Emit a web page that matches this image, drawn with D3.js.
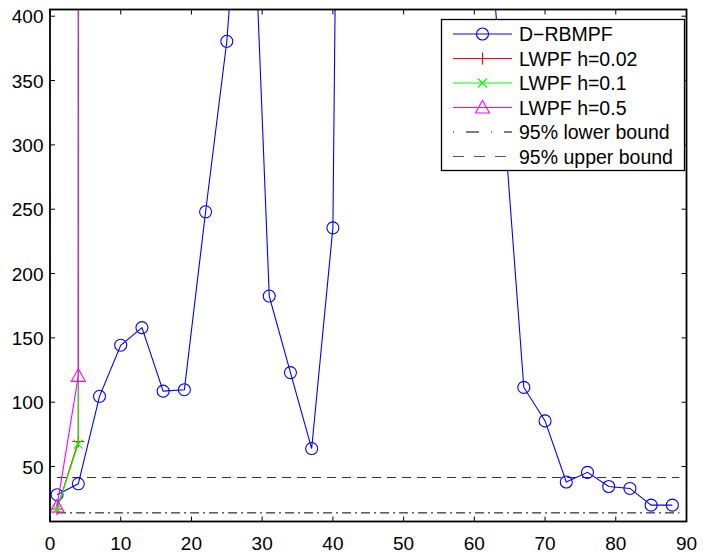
<!DOCTYPE html>
<html><head><meta charset="utf-8">
<script src="https://cdn.jsdelivr.net/npm/d3@7"></script>
<style>body{margin:0;background:#fff}svg{display:block}text{font-family:"Liberation Sans",Arial,sans-serif;fill:#000}</style>
</head><body><svg id="c" width="702" height="553"></svg>
<script>
// data
const xD = [1,4,7,10,13,16,19,22,25,28,31,34,37,40,43,67,70,73,76,79,82,85,88];
const yD = [28.1,36.6,104.6,144.3,158,108.6,109.7,248,380.5,600,182.5,123,64,235.5,1880,111.5,85.5,38,45.5,34.5,33,20,20];
const xL = [1,4,7];
const yL002 = [17,69.5,100000];
const yL01 = [17,67.5,100000];
const yL05 = [19,120.5,100000];
const boundX = [1,89];
const lowerBound = 14;
const upperBound = 41.5;
const xTicks = [0,10,20,30,40,50,60,70,80,90];
const yTicks = [50,100,150,200,250,300,350,400];
const legendLabels = ["D\u2212RBMPF","LWPF h=0.02","LWPF h=0.1","LWPF h=0.5","95% lower bound","95% upper bound"];

const L=50,R=686.5,T=9.5,B=521.5;
const x=d3.scaleLinear().domain([0,90]).range([L,R]);
const y=d3.scaleLinear().domain([7.3,405.2]).range([B,T]);
const svg=d3.select("#c");
svg.append("defs").append("clipPath").attr("id","clip").append("rect").attr("x",L).attr("y",T).attr("width",R-L).attr("height",B-T);
const g=svg.append("g").attr("clip-path","url(#clip)");

const line=d3.line().x(d=>x(d[0])).y(d=>y(d[1]));
// bounds
g.append("path").attr("d",line(boundX.map(v=>[v,lowerBound]))).attr("stroke","#000").attr("stroke-width",1).attr("fill","none").attr("stroke-dasharray","9,4,2,4");
g.append("path").attr("d",line(boundX.map(v=>[v,upperBound]))).attr("stroke","#333").attr("stroke-width",1).attr("fill","none").attr("stroke-dasharray","9,6");

function marker(sel,type,color,cx,cy){
  if(type==="o") sel.append("circle").attr("cx",cx).attr("cy",cy).attr("r",6).attr("fill","none").attr("stroke",color).attr("stroke-width",1.1);
  else if(type==="+") sel.append("path").attr("d",`M${cx-6},${cy}H${cx+6}M${cx},${cy-6}V${cy+6}`).attr("stroke",color).attr("stroke-width",1.1).attr("fill","none");
  else if(type==="x") sel.append("path").attr("d",`M${cx-4.5},${cy-4.5}L${cx+4.5},${cy+4.5}M${cx-4.5},${cy+4.5}L${cx+4.5},${cy-4.5}`).attr("stroke",color).attr("stroke-width",1.1).attr("fill","none");
  else if(type==="^") sel.append("path").attr("d",`M${cx},${cy-7}L${cx+7},${cy+5.5}L${cx-7},${cy+5.5}Z`).attr("stroke",color).attr("stroke-width",1.1).attr("fill","none");
}
const series=[
  {xs:xD,ys:yD,c:"#0000ff",m:"o"},
  {xs:xL,ys:yL002,c:"#ff0000",m:"+"},
  {xs:xL,ys:yL01,c:"#00ff00",m:"x"},
  {xs:xL,ys:yL05,c:"#ff00ff",m:"^"}
];
series.forEach(s=>{
  const pts=s.xs.map((v,i)=>[v,s.ys[i]]);
  g.append("path").attr("d",line(pts)).attr("stroke",s.c).attr("stroke-width",1.1).attr("fill","none");
  pts.forEach(p=>{ if(p[1]<410) marker(g,s.m,s.c,x(p[0]),y(p[1])); });
});

// axes box
const ax=svg.append("g");
const tl=5;
xTicks.forEach(t=>{
  ax.append("line").attr("x1",x(t)).attr("x2",x(t)).attr("y1",B).attr("y2",B-tl).attr("stroke","#000");
  ax.append("line").attr("x1",x(t)).attr("x2",x(t)).attr("y1",T).attr("y2",T+tl).attr("stroke","#000");
  ax.append("text").attr("x",x(t)).attr("y",549.5).attr("text-anchor","middle").attr("font-size",19).text(t);
});
yTicks.forEach(t=>{
  ax.append("line").attr("x1",L).attr("x2",L+tl).attr("y1",y(t)).attr("y2",y(t)).attr("stroke","#000");
  ax.append("line").attr("x1",R).attr("x2",R-tl).attr("y1",y(t)).attr("y2",y(t)).attr("stroke","#000");
  ax.append("text").attr("x",43.5).attr("y",y(t)+7).attr("text-anchor","end").attr("font-size",19).text(t);
});
ax.append("rect").attr("x",L).attr("y",T).attr("width",R-L).attr("height",B-T).attr("fill","none").attr("stroke","#000").attr("stroke-width",1.8);

// legend
const lg=svg.append("g");
lg.append("rect").attr("x",441.5).attr("y",19.5).attr("width",243).attr("height",151).attr("fill","#fff").attr("stroke","#000").attr("stroke-width",1.3);
const legItems=[
  {c:"#0000ff",m:"o",dash:null},
  {c:"#ff0000",m:"+",dash:null},
  {c:"#00ff00",m:"x",dash:null},
  {c:"#ff00ff",m:"^",dash:null},
  {c:"#000",m:null,dash:"1,12,13,12"},
  {c:"#555",m:null,dash:"11,10"}
];
legItems.forEach((it,i)=>{
  const yy=34+i*24.5;
  const l=lg.append("line").attr("x1",453).attr("x2",512).attr("y1",yy).attr("y2",yy).attr("stroke",it.c).attr("stroke-width",1.1);
  if(it.dash) l.attr("stroke-dasharray",it.dash);
  if(it.m) marker(lg,it.m,it.c,482.5,yy);
  lg.append("text").attr("x",519).attr("y",yy+7).attr("font-size",19.5).text(legendLabels[i]);
});
</script></body></html>
